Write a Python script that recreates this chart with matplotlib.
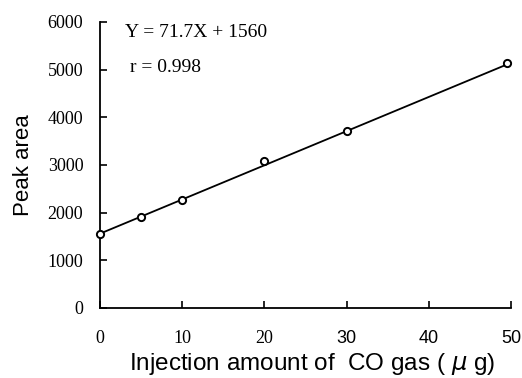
import matplotlib.pyplot as plt
import numpy as np

# injection amount of CO gas (ug) and peak area
amount = [0, 5, 10, 20, 30, 49.5]
area = [1545, 1900, 2260, 3090, 3715, 5140]

# regression line from the chart
slope = 71.7
intercept = 1560

xticks = [0, 10, 20, 30, 40, 50]
yticks = [0, 1000, 2000, 3000, 4000, 5000, 6000]

serif = 'Liberation Serif'
sans = 'Liberation Sans'

fig = plt.figure(figsize=(5.22, 3.78), dpi=100)
ax = fig.add_axes([0.1916, 0.1852, 0.7874, 0.7566])

xl = np.array([0, 50.3])
ax.plot(xl, slope * xl + intercept, color='black', lw=1.3, zorder=2)
ax.plot(amount, area, 'o', ms=5.2, mfc='white', mec='black', mew=1.4,
        zorder=3, clip_on=False)

ax.set_xlim(0, 50)
ax.set_ylim(0, 6000)
ax.spines['top'].set_visible(False)
ax.spines['right'].set_visible(False)
for s in ['left', 'bottom']:
    ax.spines[s].set_linewidth(1.3)
ax.tick_params(axis='both', direction='in', length=5, width=1.2)
ax.tick_params(axis='y', pad=12)
ax.tick_params(axis='x', pad=16)

# scanned original mixes serif and sans digits on the x axis
ax.set_yticks(yticks)
ax.set_yticklabels([str(v) for v in yticks], fontsize=13, family=serif)
ax.set_xticks(xticks)
ax.set_xticklabels([str(v) for v in xticks], fontsize=13)
for lab, v in zip(ax.get_xticklabels(), xticks):
    lab.set_fontfamily(serif if v < 30 else sans)

ax.set_xlabel('Injection amount of  CO gas ( $\\mu$ g)', fontsize=17.5,
              family=sans)
ax.xaxis.set_label_coords(0.517, -0.195)
ax.xaxis.label.set_va('center')
ax.set_ylabel('Peak area', fontsize=16, family=sans, labelpad=10)

ax.text(0.061, 0.962, 'Y = 71.7X + 1560', transform=ax.transAxes,
        fontsize=14, family=serif, va='center', ha='left')
ax.text(0.073, 0.84, 'r = 0.998', transform=ax.transAxes,
        fontsize=14, family=serif, va='center', ha='left')

fig.savefig('out.png', dpi=100)
